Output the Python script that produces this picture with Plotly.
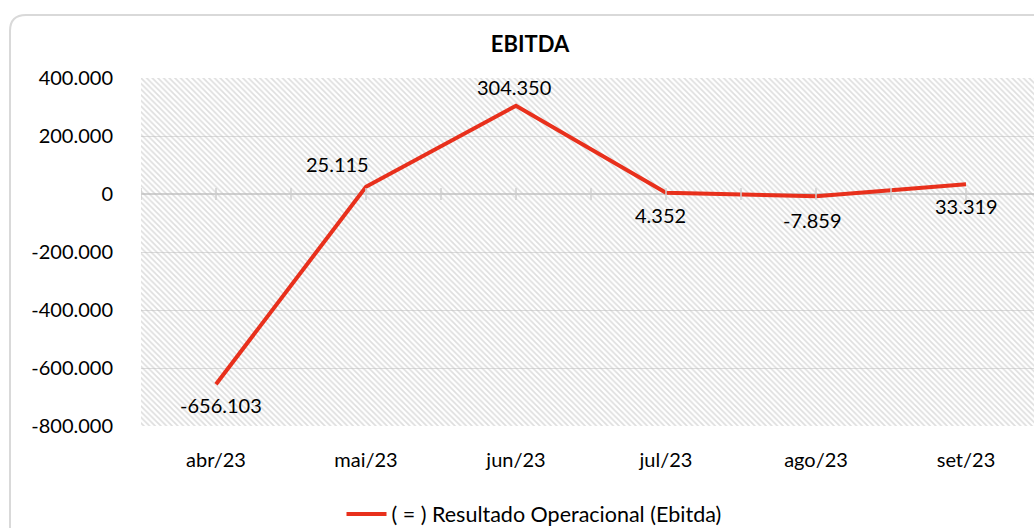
import plotly.graph_objects as go

categories = ["abr/23", "mai/23", "jun/23", "jul/23", "ago/23", "set/23"]
ebitda = [-656103, 25115, 304350, 4352, -7859, 33319]
series_name = "( = ) Resultado Operacional (Ebitda)"
y_ticks = [400000, 200000, 0, -200000, -400000, -600000, -800000]
y_range = [-800000, 400000]


def fmt(v):
    return f"{v:,}".replace(",", ".")


y_ticktext = [fmt(v) for v in y_ticks]
labels = [fmt(v) for v in ebitda]
# label offsets (pixels) relative to each point
label_dx = [5, -29, -2, -6, -4, 0]
label_dy = [-21, 23, 19, -22, -24, -22]

FONT = "Lato"
W, H = 1034, 528
ML, MR, MT, MB = 141, 0, 78, 102
pw = W - ML - MR
ph = H - MT - MB

cat_px = 150
xmax = -0.5 + pw / cat_px
x_range = [-0.5, xmax]

fig = go.Figure()

# hatched plot-area background (decoration) covering the axis ranges
fig.add_trace(go.Scatter(
    x=[x_range[0], x_range[1], x_range[1], x_range[0], x_range[0]],
    y=[y_range[0], y_range[0], y_range[1], y_range[1], y_range[0]],
    mode="lines", line=dict(width=0), fill="toself",
    fillcolor="rgba(0,0,0,0)",
    fillpattern=dict(shape="\\", fgcolor="#bdbdbd", bgcolor="rgba(0,0,0,0)", size=4, solidity=0.42),
    hoverinfo="skip", showlegend=False,
))

fig.add_trace(go.Scatter(
    x=list(range(len(categories))), y=ebitda, name=series_name,
    mode="lines", line=dict(color="#E8301C", width=4),
    showlegend=True,
))

annotations = []
for i, (v, t) in enumerate(zip(ebitda, labels)):
    annotations.append(dict(x=i, y=v, xref="x", yref="y", text=t, showarrow=False,
                            xshift=label_dx[i], yshift=label_dy[i],
                            xanchor="center", yanchor="middle",
                            font=dict(family=FONT, size=20, color="#000000")))

shapes = []
k = 0
while -0.5 + 0.5 * k <= xmax:
    xv = -0.5 + 0.5 * k
    shapes.append(dict(type="line", xref="x", yref="y", ysizemode="pixel", yanchor=0,
                       x0=xv, x1=xv, y0=-6, y1=6, line=dict(color="#cfcfcf", width=1.5)))
    k += 1


def px2paper_x(px):
    return (px - ML) / pw


def px2paper_y(py):
    return (H - MB - py) / ph


L, T, R, B, r = 10, 15, 1060, 560, 16
x0, x1 = px2paper_x(L), px2paper_x(R)
y0, y1 = px2paper_y(T), px2paper_y(B)
rx, ry = r / pw, r / ph
path = (f"M {x0},{y1} L {x0},{y0 - ry} Q {x0},{y0} {x0 + rx},{y0} "
        f"L {x1 - rx},{y0} Q {x1},{y0} {x1},{y0 - ry} L {x1},{y1}")
shapes.append(dict(type="path", xref="paper", yref="paper", path=path,
                   line=dict(color="#d9d9d9", width=2), layer="below"))

fig.update_layout(
    width=W, height=H,
    margin=dict(l=ML, r=MR, t=MT, b=MB, pad=0, autoexpand=False),
    paper_bgcolor="white", plot_bgcolor="white",
    font=dict(family=FONT, size=20, color="#000000"),
    title=dict(text="<b>EBITDA</b>", x=530 / W, xref="container", xanchor="center",
               y=1 - 44 / H, yref="container", yanchor="middle",
               font=dict(family=FONT, size=22, color="#000000")),
    xaxis=dict(
        range=x_range, tickmode="array",
        tickvals=list(range(len(categories))), ticktext=categories,
        showgrid=False, zeroline=False, showline=False, ticks="",
        ticklabelstandoff=20, tickfont=dict(family=FONT, size=20, color="#000000"),
        automargin=False,
    ),
    yaxis=dict(
        range=y_range, tickmode="array", tickvals=y_ticks, ticktext=y_ticktext,
        showgrid=True, gridcolor="#dcdcdc", gridwidth=1.2,
        zeroline=True, zerolinecolor="#d0d0d0", zerolinewidth=1.8,
        showline=False, ticks="", ticklabelstandoff=27,
        tickfont=dict(family=FONT, size=20, color="#000000"),
        automargin=False,
    ),
    legend=dict(orientation="h", x=534 / W, xref="container", xanchor="center",
                y=1 - 514 / H, yref="container", yanchor="middle",
                font=dict(family=FONT, size=21.5, color="#000000"), itemwidth=40),
    shapes=shapes,
    annotations=annotations,
    showlegend=True,
)

fig.write_html("out.html")
